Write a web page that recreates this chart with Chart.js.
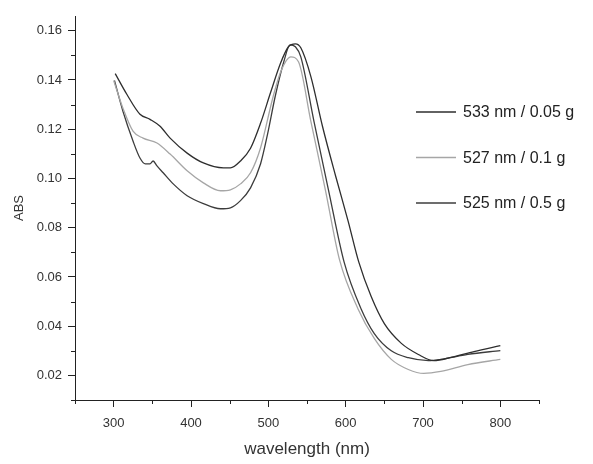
<!DOCTYPE html>
<html>
<head>
<meta charset="utf-8">
<script src="https://cdn.jsdelivr.net/npm/chart.js@4/dist/chart.umd.min.js"></script>
<style>
  html, body { margin: 0; padding: 0; background: #fff; }
  #wrap { width: 593px; height: 464px; }
</style>
</head>
<body>
<div id="wrap"><canvas id="absChart"></canvas></div>
<script>
// DATA
const labels = ["533 nm / 0.05 g", "527 nm / 0.1 g", "525 nm / 0.5 g"];

const wl533 = [302, 317, 334, 347, 360, 373, 395, 416, 442, 451, 464, 477, 490, 503, 516, 526, 535, 542, 555, 570, 587, 603, 617, 633, 650, 672, 694, 714, 736, 766, 800];
const abs533 = [0.1426, 0.1342, 0.1261, 0.1240, 0.1212, 0.1164, 0.1103, 0.1063, 0.1043, 0.1043, 0.1071, 0.1123, 0.1225, 0.1350, 0.1470, 0.1535, 0.1547, 0.1531, 0.1414, 0.1212, 0.1010, 0.0829, 0.0660, 0.0520, 0.0410, 0.0330, 0.0285, 0.0260, 0.0273, 0.0297, 0.0321];

const wl527 = [300, 312, 325, 338, 356, 373, 395, 416, 438, 451, 464, 477, 490, 506, 516, 529, 539, 555, 574, 592, 616, 637, 659, 681, 701, 723, 758, 800];
const abs527 = [0.1398, 0.1285, 0.1192, 0.1164, 0.1144, 0.1099, 0.1031, 0.0982, 0.0950, 0.0954, 0.0978, 0.1023, 0.1125, 0.1330, 0.1434, 0.1494, 0.1474, 0.1232, 0.0950, 0.0670, 0.0470, 0.0350, 0.0265, 0.0224, 0.0208, 0.0216, 0.0244, 0.0265];

const wl525 = [301, 312, 325, 334, 341, 347, 351, 356, 364, 377, 395, 416, 438, 451, 464, 477, 490, 499, 509, 520, 528, 535, 542, 559, 578, 598, 620, 637, 659, 681, 707, 723, 758, 800];
const abs525 = [0.1398, 0.1273, 0.1152, 0.1083, 0.1059, 0.1059, 0.1071, 0.1051, 0.1023, 0.0978, 0.0930, 0.0898, 0.0877, 0.0881, 0.0910, 0.0962, 0.1060, 0.1180, 0.1335, 0.1474, 0.1543, 0.1535, 0.1494, 0.1232, 0.0950, 0.0660, 0.0470, 0.0370, 0.0300, 0.0272, 0.0260, 0.0265, 0.0285, 0.0301];

const xMajor = [300, 400, 500, 600, 700, 800];
const yMajor = [0.02, 0.04, 0.06, 0.08, 0.10, 0.12, 0.14, 0.16];

function pts(xs, ys) {
  return xs.map((x, i) => ({ x: x, y: ys[i] }));
}

function isMajor(list, v) {
  return list.some(m => Math.abs(m - v) < 1e-6);
}

const FONT = "'Liberation Sans', Arial, sans-serif";
Chart.defaults.font.family = FONT;
Chart.defaults.color = "#333";

// short minor ticks, drawn on the library's scales
const minorTicks = {
  id: "minorTicks",
  afterDraw(chart) {
    const ctx = chart.ctx;
    const xs = chart.scales.x, ys = chart.scales.y;
    ctx.save();
    ctx.strokeStyle = "#222";
    ctx.lineWidth = 1;
    ctx.beginPath();
    xs.ticks.forEach(t => {
      if (isMajor(xMajor, t.value)) return;
      const px = Math.round(xs.getPixelForValue(t.value)) + 0.5;
      ctx.moveTo(px, xs.top);
      ctx.lineTo(px, xs.top + 4);
    });
    ys.ticks.forEach(t => {
      if (isMajor(yMajor, t.value)) return;
      const py = Math.round(ys.getPixelForValue(t.value)) + 0.5;
      ctx.moveTo(ys.right, py);
      ctx.lineTo(ys.right - 4, py);
    });
    ctx.stroke();
    ctx.restore();
  }
};

// legend inside the plot, right side
const insideLegend = {
  id: "insideLegend",
  afterDraw(chart) {
    const ctx = chart.ctx;
    const area = chart.chartArea;
    const x0 = area.left + 341;
    const y0 = area.top + 96;
    ctx.save();
    ctx.font = "16px " + FONT;
    ctx.textBaseline = "middle";
    chart.data.datasets.forEach((ds, i) => {
      const y = y0 + i * 45.5;
      ctx.strokeStyle = ds.borderColor;
      ctx.lineWidth = 1.3;
      ctx.beginPath();
      ctx.moveTo(x0, y);
      ctx.lineTo(x0 + 40, y);
      ctx.stroke();
      ctx.fillStyle = "#222";
      ctx.fillText(ds.label, x0 + 47, y + 1);
    });
    ctx.restore();
  }
};

const ctx = document.getElementById("absChart").getContext("2d");
new Chart(ctx, {
  type: "line",
  data: {
    datasets: [
      { label: labels[0], data: pts(wl533, abs533), borderColor: "#2e2e2e" },
      { label: labels[1], data: pts(wl527, abs527), borderColor: "#a6a6a6" },
      { label: labels[2], data: pts(wl525, abs525), borderColor: "#3c3c3c" },
    ],
  },
  options: {
    responsive: true,
    maintainAspectRatio: false,
    animation: false,
    datasets: {
      line: {
        borderWidth: 1.3,
        pointRadius: 0,
        fill: false,
        cubicInterpolationMode: "monotone",
      },
    },
    layout: { padding: { top: 16, right: 54, left: 0, bottom: 0 } },
    plugins: {
      legend: { display: false },
      tooltip: { enabled: false },
    },
    scales: {
      x: {
        type: "linear",
        min: 250,
        max: 850,
        afterFit(scale) { scale.height = 64; },
        border: { display: true, color: "#222", width: 1 },
        grid: {
          drawOnChartArea: false,
          drawTicks: true,
          tickLength: 7,
          tickColor: c => isMajor(xMajor, c.tick.value) ? "#222" : "rgba(0,0,0,0)",
        },
        ticks: {
          stepSize: 50,
          autoSkip: false,
          maxRotation: 0,
          padding: 9,
          font: { size: 13 },
          color: "#333",
          callback: v => isMajor(xMajor, v) ? String(v) : "",
        },
        title: {
          display: true,
          text: "wavelength (nm)",
          font: { size: 17 },
          color: "#333",
          padding: { top: 4 },
        },
      },
      y: {
        type: "linear",
        min: 0.01,
        max: 0.166,
        afterFit(scale) { scale.width = 75; },
        border: { display: true, color: "#222", width: 1 },
        grid: {
          drawOnChartArea: false,
          drawTicks: true,
          tickLength: 7,
          tickColor: c => isMajor(yMajor, c.tick.value) ? "#222" : "rgba(0,0,0,0)",
        },
        ticks: {
          stepSize: 0.01,
          includeBounds: false,
          autoSkip: false,
          padding: 6,
          font: { size: 13 },
          color: "#333",
          callback: v => isMajor(yMajor, v) ? v.toFixed(2) : "",
        },
        title: {
          display: true,
          text: "ABS",
          font: { size: 13 },
          color: "#333",
          padding: { top: 12, bottom: 0 },
        },
      },
    },
  },
  plugins: [minorTicks, insideLegend],
});
</script>
</body>
</html>
